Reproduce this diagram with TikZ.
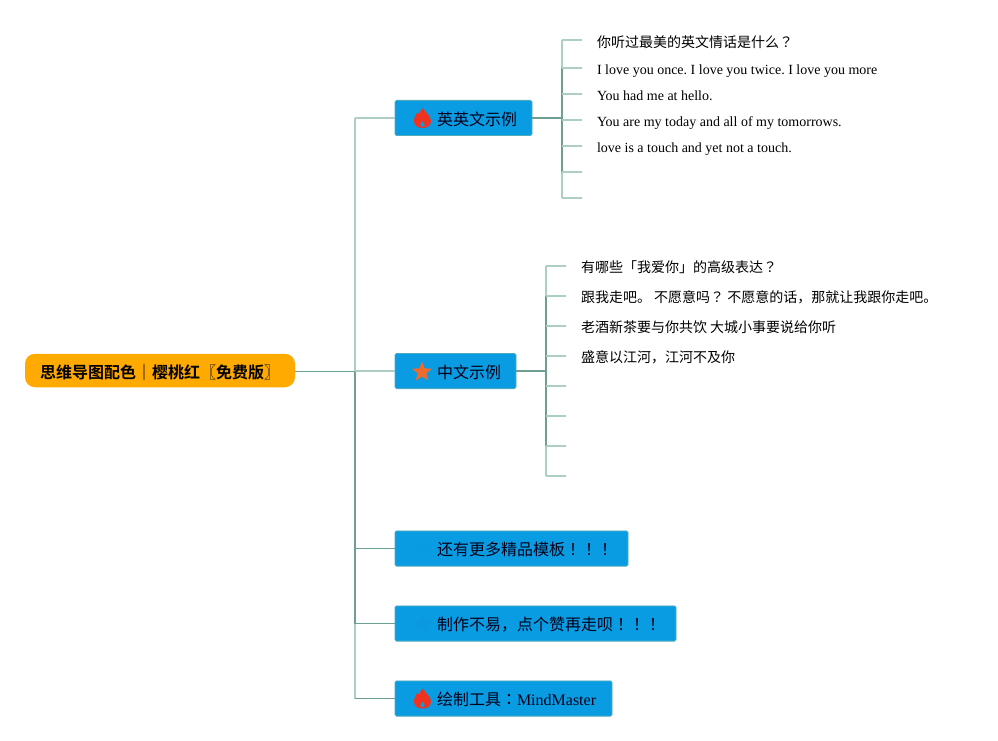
\documentclass[tikz,border=0pt]{standalone}
\usepackage{fontspec}
\setmainfont{Liberation Serif}
\newfontfamily\cjk{Noto Sans CJK SC}
\newfontfamily\cjkb{Noto Sans CJK SC Bold}
\newfontfamily\cjkp{Noto Sans CJK TC}
\usetikzlibrary{shapes.geometric}
\definecolor{linedark}{HTML}{6E9F95}
\definecolor{linelight}{HTML}{ADCEC5}
\definecolor{boxblue}{HTML}{0A9CE2}
\definecolor{boxedge}{HTML}{4FABBC}
\definecolor{rootorange}{HTML}{FFAA00}
\definecolor{flamered}{HTML}{F0321E}
\definecolor{staror}{HTML}{EE6B2E}
\definecolor{starblue}{HTML}{0B98E0}
\newcommand{\pq}{{\cjkp ？}}
\newcommand{\pe}{{\cjkp ！}}
\newcommand{\pc}{{\cjkp ：}}
\newcommand{\flameicon}[1]{%
  \fill[flamered,even odd rule,shift={(#1)}] (0.5,-10) .. controls (1.5,-6) and (8.5,-3) .. (8.5,3)
    .. controls (8.5,7.5) and (4.5,10) .. (0,10)
    .. controls (-4.5,10) and (-8.5,7.5) .. (-8.5,3)
    .. controls (-8.5,-1) and (-6,-3) .. (-5,-6)
    .. controls (-4,-4.5) and (-3.5,-3.5) .. (-3,-3)
    .. controls (-3,-6) and (-1.5,-8.5) .. (0.5,-10) -- cycle
    (0,3) .. controls (-1,4.5) and (-2.5,5.5) .. (-2.2,7.5)
    .. controls (-1.8,9.6) and (1.8,9.6) .. (2.2,7.5)
    .. controls (2.5,5.5) and (1,4.5) .. (0,3) -- cycle;%
}
\tikzset{
  x=1pt,y=-1pt,
  every node/.style={inner sep=0pt,outer sep=0pt},
  topic/.style={draw=boxedge,line width=0.8pt,fill=boxblue,rounded corners=1.5pt,minimum height=35.2pt,anchor=west},
  toptext/.style={anchor=base west,font=\cjk\fontsize{16}{16}\selectfont,text=black!90!blue},
  leaf/.style={anchor=base west,font=\fontsize{14}{14}\selectfont\frenchspacing,text=black},
  cjkleaf/.style={anchor=base west,font=\cjk\fontsize{14}{14}\selectfont,text=black},
  dk/.style={draw=linedark,line width=1.2pt},
  lt/.style={draw=linelight,line width=1.2pt},
  thin dk/.style={draw=linedark,line width=0.8pt},
  iconstar/.style={star,star points=5,star point ratio=2.3,minimum size=21pt},
}
\begin{document}
\begin{tikzpicture}
\useasboundingbox (0,0) rectangle (998,741);
% junctions
\coordinate (hub) at (355,371);
\coordinate (ta) at (355,118);
\coordinate (tc) at (355,548.5);
\coordinate (td) at (355,623.5);
\coordinate (te) at (355,698.5);
\coordinate (ja) at (562,118);
\coordinate (jb) at (546,371);
\foreach \n/\y in {a1/40,a2/68,a3/94,a4/120,a5/146,a6/172,a7/198}{
  \coordinate (\n) at (562,\y);
  \coordinate (\n e) at (582,\y);
}
\foreach \n/\y in {b1/266,b2/296,b3/326,b4/356,b5/386,b6/416,b7/446,b8/476}{
  \coordinate (\n) at (546,\y);
  \coordinate (\n e) at (566,\y);
}
% trunk
\draw[lt] (ta) -- (hub);
\draw[dk] (hub) -- (td);
\draw[lt] (td) -- (te);
% english branch stubs
\draw[lt] (a1) -- (a2);
\draw[dk] (a2) -- (a6);
\draw[lt] (a6) -- (a7);
\foreach \n in {a1,a2,a3,a4,a5,a6,a7}{\draw[lt] (\n) -- (\n e);}
% chinese branch stubs
\draw[lt] (b1) -- (b2);
\draw[dk] (b2) -- (b7);
\draw[lt] (b7) -- (b8);
\foreach \n in {b1,b2,b3,b4,b5,b6,b7,b8}{\draw[lt] (\n) -- (\n e);}
% root
\node[fill=rootorange,rounded corners=10pt,minimum height=33.5pt,minimum width=270pt,anchor=west] (root) at (25,370.5) {};
\node[anchor=base west,font=\cjkb\fontsize{16}{16}\selectfont,text=black] (roottext) at (40,378) {思维导图配色｜樱桃红〖免费版〗};
% topics
\node[topic,minimum width=137pt] (eng) at (395,118) {};
\node[topic,minimum width=121pt] (chn) at (395,371) {};
\node[topic,minimum width=233pt] (more) at (395,548.5) {};
\node[topic,minimum width=281pt] (like) at (395,623.5) {};
\node[topic,minimum width=217pt] (tool) at (395,698.5) {};
% icons
\flameicon{422.5,118}
\node[iconstar,fill=staror] (staricon) at (422,372) {};
\node[iconstar,fill=boxblue!99!black] (starmore) at (422,549) {};
\node[iconstar,fill=starblue] (starlike) at (422,624) {};
\flameicon{422.5,698.5}
% topic text
\node[toptext] (engt) at (437,125.7) {英英文示例};
\node[toptext] (chnt) at (437,378.7) {中文示例};
\node[toptext] (moret) at (437,555.7) {还有更多精品模板\pe\pe\pe};
\node[toptext] (liket) at (437,630.7) {制作不易，点个赞再走呗\pe\pe\pe};
\node[toptext] (toolt) at (437,705.7) {绘制工具\pc\fontspec{Liberation Serif}\fontsize{16}{16}\selectfont MindMaster};
% connectors
\draw[thin dk] (root.east |- hub) -- (hub);
\draw[lt] (hub) -- (chn.west);
\draw[lt] (ta) -- (eng.west);
\draw[thin dk] (tc) -- (more.west);
\draw[thin dk] (td) -- (like.west);
\draw[thin dk] (te) -- (tool.west);
\draw[dk] (eng.east) -- (ja);
\draw[dk] (chn.east) -- (jb);
% leaves
\node[cjkleaf] (l1) at (597,47.3) {你听过最美的英文情话是什么\pq};
\node[leaf] (l2) at (597,74.7) {I love you once. I love you twice. I love you more};
\node[leaf] (l3) at (597,100.7) {You had me at hello.};
\node[leaf] (l4) at (597,126.7) {You are my today and all of my tomorrows.};
\node[leaf] (l5) at (597,152) {love is a touch and yet not a touch.};
\node[cjkleaf] (m1) at (581,272.6) {有哪些「我爱你」的高级表达\pq};
\node[cjkleaf] (m2) at (581,302.4) {跟我走吧。 不愿意吗\pq{} 不愿意的话，那就让我跟你走吧。};
\node[cjkleaf] (m3) at (581,332.4) {老酒新茶要与你共饮 大城小事要说给你听};
\node[cjkleaf] (m4) at (581,362.4) {盛意以江河，江河不及你};
\end{tikzpicture}
\end{document}
